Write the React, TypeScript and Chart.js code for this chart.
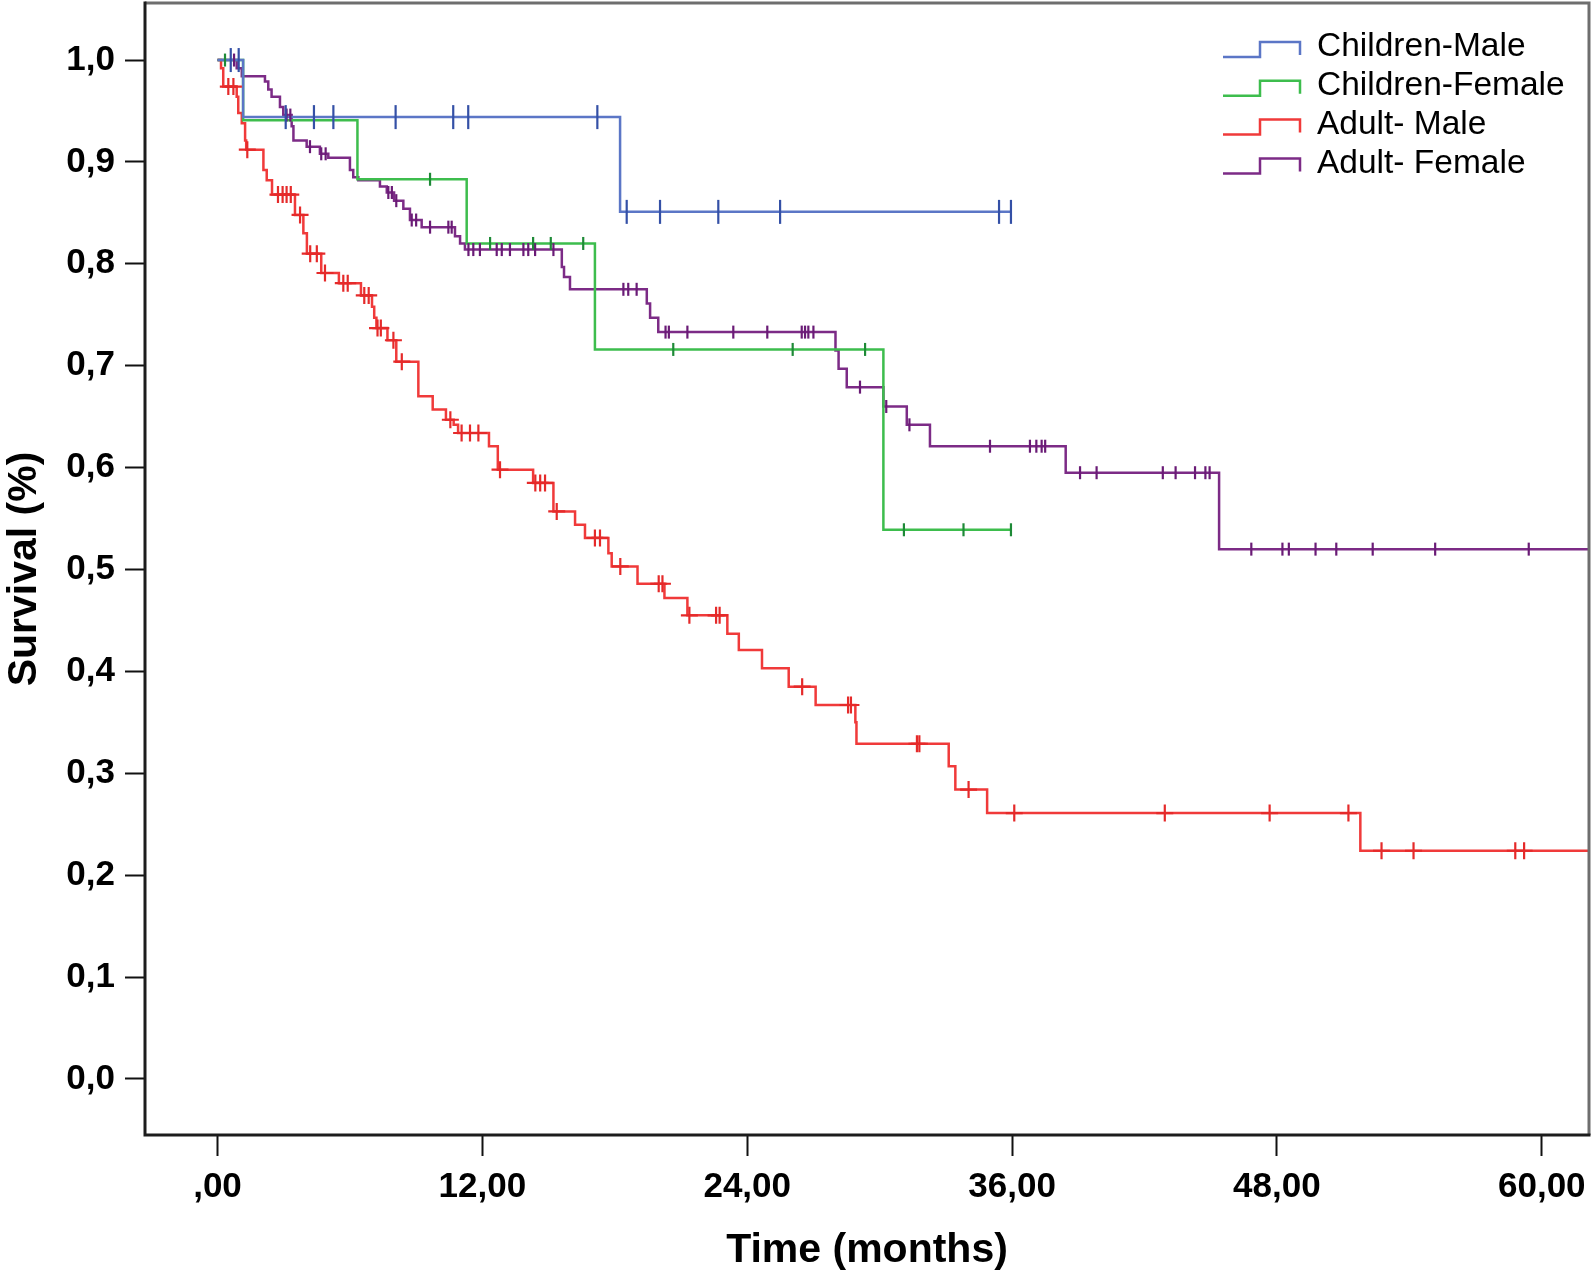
import React, { useEffect, useRef } from 'react';
import { Chart, registerables } from 'chart.js';

Chart.register(...registerables);

// ---- Series (Kaplan-Meier step points: time in months, survival after the event) ----
const seriesLabels = ['Children-Male', 'Children-Female', 'Adult- Male', 'Adult- Female'];
const seriesColors = ['#5b76c6', '#3dbd4d', '#f03a3a', '#7c2b86'];
const censorColors = ['#3450a6', '#1e8a37', '#e52a2a', '#6a1b76'];

const childrenMaleTimes = [0, 1.16, 18.24, 35.95];
const childrenMaleSurvival = [1.0, 0.944, 0.851, 0.851];
const childrenMaleCensored = [0.6, 0.96, 3.09, 4.37, 5.25, 8.07, 10.68, 11.36, 17.21, 18.54, 20.05, 22.69, 25.49, 35.41, 35.95];

const childrenFemaleTimes = [0, 1.16, 6.34, 11.29, 17.1, 30.17, 35.95];
const childrenFemaleSurvival = [1.0, 0.941, 0.883, 0.82, 0.716, 0.539, 0.539];
const childrenFemaleCensored = [0.34, 9.63, 12.35, 14.3, 15.1, 16.57, 20.65, 26.06, 29.34, 31.1, 33.8, 35.95];

const adultMaleTimes = [0, 0.16, 0.26, 0.87, 0.94, 1.1, 1.25, 1.3, 2.08, 2.23, 2.47, 3.51, 3.89, 4.05, 4.7, 5.5, 6.5, 7.0, 7.1, 7.2, 7.7, 8.1, 9.1, 9.75, 10.35, 10.7, 10.9, 12.3, 12.7, 14.3, 15.22, 16.2, 16.65, 17.71, 17.86, 19.03, 20.25, 21.29, 23.1, 23.62, 24.67, 25.88, 27.1, 28.9, 28.95, 33.13, 33.43, 34.87, 51.78, 63];
const adultMaleSurvival = [1.0, 0.992, 0.974, 0.964, 0.948, 0.938, 0.921, 0.912, 0.892, 0.882, 0.868, 0.848, 0.83, 0.81, 0.791, 0.781, 0.769, 0.758, 0.747, 0.737, 0.725, 0.704, 0.67, 0.657, 0.647, 0.642, 0.634, 0.621, 0.598, 0.585, 0.557, 0.544, 0.531, 0.516, 0.503, 0.486, 0.472, 0.455, 0.437, 0.421, 0.403, 0.385, 0.367, 0.35, 0.329, 0.307, 0.284, 0.261, 0.224, 0.224];
const adultMaleCensored = [0.49, 0.72, 1.35, 2.74, 2.95, 3.13, 3.32, 3.74, 4.2, 4.5, 4.87, 5.7, 5.9, 6.65, 6.85, 7.25, 7.4, 7.97, 8.35, 10.55, 11.06, 11.44, 11.82, 12.8, 14.4, 14.62, 14.84, 15.37, 17.1, 17.33, 18.25, 19.99, 20.16, 21.38, 22.59, 22.75, 26.49, 28.57, 28.7, 31.69, 31.8, 34.03, 36.1, 42.92, 47.67, 51.24, 52.74, 54.19, 58.8, 59.2];

const adultFemaleTimes = [0, 0.87, 1.1, 2.15, 2.3, 2.45, 2.83, 2.98, 3.36, 3.44, 4.04, 4.64, 5.02, 6.0, 6.15, 6.38, 7.36, 7.67, 8.0, 8.42, 8.72, 9.25, 10.76, 10.99, 11.21, 15.6, 15.7, 15.97, 19.45, 19.6, 19.97, 28.0, 28.14, 28.51, 30.17, 31.23, 32.28, 38.43, 45.38, 63];
const adultFemaleSurvival = [1.0, 0.992, 0.984, 0.979, 0.971, 0.964, 0.954, 0.946, 0.935, 0.921, 0.915, 0.908, 0.904, 0.892, 0.885, 0.882, 0.876, 0.87, 0.862, 0.854, 0.843, 0.836, 0.827, 0.82, 0.814, 0.797, 0.787, 0.775, 0.761, 0.747, 0.733, 0.715, 0.697, 0.679, 0.66, 0.642, 0.621, 0.595, 0.52, 0.52];
const adultFemaleCensored = [0.75, 3.13, 3.3, 4.19, 4.7, 4.9, 7.74, 7.9, 8.1, 8.8, 9.0, 9.63, 10.46, 10.61, 11.37, 11.59, 11.89, 12.65, 12.88, 13.25, 13.86, 14.08, 14.39, 15.22, 18.39, 18.61, 18.99, 20.3, 20.45, 21.29, 23.37, 24.91, 26.47, 26.62, 26.77, 27.0, 29.11, 30.3, 31.35, 35.0, 36.81, 37.1, 37.34, 37.5, 39.08, 39.83, 42.83, 43.41, 44.29, 44.76, 44.95, 46.84, 48.25, 48.54, 49.75, 50.69, 52.34, 55.17, 59.41];

// ---- Axes ----
const xTickValues = [0, 12, 24, 36, 48, 60];
const xTickLabels = [',00', '12,00', '24,00', '36,00', '48,00', '60,00'];
const yTickValues = [0, 0.1, 0.2, 0.3, 0.4, 0.5, 0.6, 0.7, 0.8, 0.9, 1.0];
const yTickLabels = ['0,0', '0,1', '0,2', '0,3', '0,4', '0,5', '0,6', '0,7', '0,8', '0,9', '1,0'];
const xTitle = 'Time (months)';
const yTitle = 'Survival (%)';

const FONT = '"Liberation Sans", Arial, Helvetica, sans-serif';

function levelAt(times: number[], surv: number[], t: number): number {
  let v = surv[0];
  for (let i = 0; i < times.length; i++) {
    if (times[i] <= t) v = surv[i];
  }
  return v;
}

const seriesTimes = [childrenMaleTimes, childrenFemaleTimes, adultMaleTimes, adultFemaleTimes];
const seriesSurv = [childrenMaleSurvival, childrenFemaleSurvival, adultMaleSurvival, adultFemaleSurvival];
const seriesCensored = [childrenMaleCensored, childrenFemaleCensored, adultMaleCensored, adultFemaleCensored];
const censorStyles = [
  { style: 'line', rotation: 90, radius: 12 },
  { style: 'line', rotation: 90, radius: 6.5 },
  { style: 'cross', rotation: 0, radius: 8.5 },
  { style: 'line', rotation: 90, radius: 6.5 },
];

const framePlugin = {
  id: 'kmFrame',
  afterDatasetsDraw(chart: any) {
    const { ctx, chartArea: a } = chart;
    ctx.save();
    ctx.lineWidth = 3;
    ctx.strokeStyle = '#6e6e6e';
    ctx.beginPath();
    ctx.moveTo(a.left, a.top);
    ctx.lineTo(a.right, a.top);
    ctx.lineTo(a.right, a.bottom);
    ctx.stroke();
    ctx.strokeStyle = '#1c1c1c';
    ctx.beginPath();
    ctx.moveTo(a.left, a.top - 1.5);
    ctx.lineTo(a.left, a.bottom);
    ctx.lineTo(a.right + 1.5, a.bottom);
    ctx.stroke();
    ctx.restore();
  },
};

const legendPlugin = {
  id: 'kmLegend',
  afterDraw(chart: any) {
    const { ctx, chartArea: a } = chart;
    ctx.save();
    const iconLeft = a.right - 366;
    const iconStep = a.right - 329;
    const iconRight = a.right - 289;
    const textX = a.right - 272;
    seriesLabels.forEach((label, i) => {
      const y = a.top + 44 + i * 38.8;
      ctx.strokeStyle = seriesColors[i];
      ctx.lineWidth = 2.5;
      ctx.beginPath();
      ctx.moveTo(iconLeft, y + 10);
      ctx.lineTo(iconStep, y + 10);
      ctx.lineTo(iconStep, y - 5);
      ctx.lineTo(iconRight, y - 5);
      ctx.lineTo(iconRight, y + 8);
      ctx.stroke();
      ctx.fillStyle = '#000';
      ctx.font = `33.5px ${FONT}`;
      ctx.textAlign = 'left';
      ctx.textBaseline = 'middle';
      ctx.fillText(label, textX, y);
    });
    ctx.restore();
  },
};

export default function App() {
  const canvasRef = useRef<HTMLCanvasElement | null>(null);

  useEffect(() => {
    if (!canvasRef.current) return;
    Chart.defaults.font.family = FONT;

    const lineSets: any[] = seriesLabels.map((label, i) => ({
      type: 'line',
      label,
      data: seriesTimes[i].map((t, j) => ({ x: t, y: seriesSurv[i][j] })),
      borderColor: seriesColors[i],
      borderWidth: 2.5,
      pointRadius: 0,
      stepped: true,
      fill: false,
      tension: 0,
    }));
    const censorSets: any[] = seriesLabels.map((label, i) => ({
      type: 'scatter',
      label: label + ' censored',
      data: seriesCensored[i].map((t) => ({ x: t, y: levelAt(seriesTimes[i], seriesSurv[i], t) })),
      showLine: false,
      pointStyle: censorStyles[i].style,
      rotation: censorStyles[i].rotation,
      pointRadius: censorStyles[i].radius,
      pointBorderWidth: 2.2,
      borderWidth: 2.2,
      borderColor: censorColors[i],
      backgroundColor: censorColors[i],
      pointBorderColor: censorColors[i],
    }));

    const chart = new Chart(canvasRef.current, {
      type: 'line',
      data: { datasets: [...censorSets, ...lineSets] },
      options: {
        animation: false,
        responsive: false,
        events: [],
        layout: { autoPadding: false, padding: { top: 3, right: 5, left: 0, bottom: 0 } },
        plugins: {
          legend: { display: false },
          tooltip: { enabled: false },
          title: { display: false },
        },
        scales: {
          x: {
            type: 'linear',
            position: 'bottom',
            min: -3.285,
            max: 62.14,
            afterBuildTicks: (s: any) => {
              s.ticks = xTickValues.map((v) => ({ value: v }));
            },
            afterFit: (s: any) => {
              s.height = 140;
              s.paddingLeft = 0;
              s.paddingRight = 0;
              s.paddingTop = 0;
              s.paddingBottom = 0;
            },
            grid: {
              display: true,
              drawOnChartArea: false,
              drawTicks: true,
              tickLength: 21,
              tickColor: '#111',
              tickWidth: 2,
              color: '#111',
            },
            border: { display: false },
            ticks: {
              autoSkip: false,
              maxRotation: 0,
              minRotation: 0,
              padding: 10,
              color: '#000',
              font: { size: 35, weight: 'bold', family: FONT },
              callback: (_v: any, idx: number) => xTickLabels[idx],
            },
            title: {
              display: true,
              text: xTitle,
              color: '#000',
              font: { size: 41, weight: 'bold', family: FONT },
              padding: { top: 0, bottom: 0 },
            },
          },
          y: {
            type: 'linear',
            position: 'left',
            min: -0.055,
            max: 1.056,
            afterBuildTicks: (s: any) => {
              s.ticks = yTickValues.map((v) => ({ value: v }));
            },
            afterFit: (s: any) => {
              s.width = 145;
              s.paddingLeft = 0;
              s.paddingRight = 0;
              s.paddingTop = 0;
              s.paddingBottom = 0;
            },
            grid: {
              display: true,
              drawOnChartArea: false,
              drawTicks: true,
              tickLength: 20,
              tickColor: '#111',
              tickWidth: 2,
              color: '#111',
            },
            border: { display: false },
            ticks: {
              autoSkip: false,
              padding: 10,
              color: '#000',
              font: { size: 35, weight: 'bold', family: FONT },
              callback: (_v: any, idx: number) => yTickLabels[idx],
            },
            title: {
              display: true,
              text: yTitle,
              color: '#000',
              font: { size: 41, weight: 'bold', family: FONT },
              padding: { top: 0, bottom: 0 },
            },
          },
        },
      } as any,
      plugins: [framePlugin, legendPlugin],
    } as any);

    return () => chart.destroy();
  }, []);

  return (
    <div style={{ position: 'fixed', left: 0, top: 0, width: 1594, height: 1275, background: '#fff' }}>
      <canvas ref={canvasRef} width={1594} height={1275} style={{ display: 'block', width: 1594, height: 1275 }} />
    </div>
  );
}
